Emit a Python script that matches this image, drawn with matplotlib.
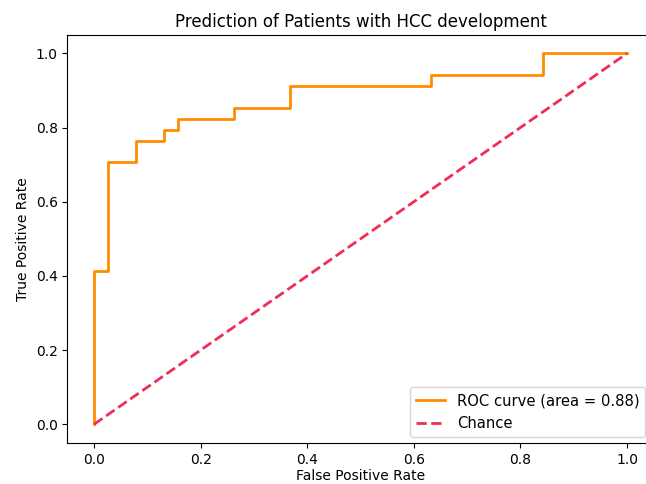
import matplotlib
matplotlib.use("Agg")
import matplotlib.pyplot as plt

# ROC step points (34 positives, 38 negatives)
fpr = [0.0, 0.0, 0.026, 0.026, 0.079, 0.079, 0.132, 0.132, 0.158, 0.158,
       0.263, 0.263, 0.368, 0.368, 0.632, 0.632, 0.842, 0.842, 1.0]
tpr = [0.0, 0.412, 0.412, 0.706, 0.706, 0.765, 0.765, 0.794, 0.794, 0.824,
       0.824, 0.853, 0.853, 0.912, 0.912, 0.941, 0.941, 1.0, 1.0]
roc_auc = 0.88
chance = [0.0, 1.0]

fig = plt.figure(figsize=(6.46, 4.84), dpi=100)
ax = fig.add_axes([0.1043, 0.085, 0.9075, 0.843])
ax.plot(fpr, tpr, color="darkorange", lw=2, label="ROC curve (area = %0.2f)" % roc_auc)
ax.plot(chance, chance, color="#ef2d56", lw=2, linestyle="--", label="Chance")
ax.set_xlim(-0.05, 1.05)
ax.set_ylim(-0.05, 1.05)
ax.set_xlabel("False Positive Rate", labelpad=2)
ax.set_ylabel("True Positive Rate")
ax.set_title("Prediction of Patients with HCC development")
ax.legend(loc="lower right", fontsize=10.6, bbox_to_anchor=(0.999, 0.098),
          bbox_transform=fig.transFigure, borderaxespad=0)
fig.savefig("out.png", dpi=100)
